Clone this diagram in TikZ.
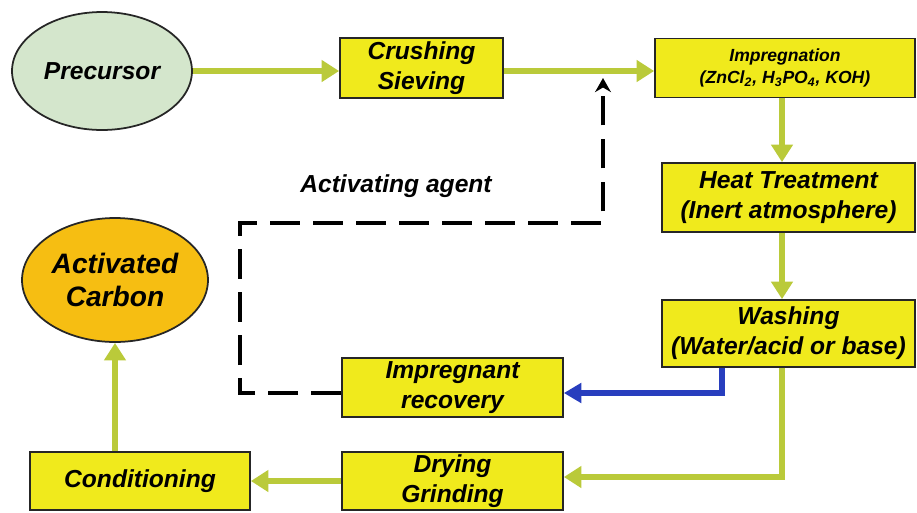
\documentclass[tikz,border=0pt]{standalone}
\usepackage{fontspec}
\setmainfont{Liberation Sans}
\usetikzlibrary{arrows.meta,shapes.geometric}
\definecolor{boxyellow}{RGB}{240,234,28}
\definecolor{flowgreen}{RGB}{186,202,58}
\definecolor{recblue}{RGB}{40,62,190}
\definecolor{precgreen}{RGB}{212,230,204}
\definecolor{carbonorange}{RGB}{246,190,18}

\begin{document}
\begin{tikzpicture}[x=0.02cm,y=-0.02cm,
  stage/.style={draw=black!85,line width=1pt,fill=boxyellow,inner sep=0pt,align=center,
    font=\fontsize{14}{17}\selectfont\bfseries\itshape},
  blob/.style={ellipse,draw=black!85,line width=1pt,inner sep=0pt,align=center,
    font=\fontsize{14}{17}\selectfont\bfseries\itshape},
  flow/.style={flowgreen,line width=3.6pt,-{Triangle[width=12pt,length=10pt]}},
  back/.style={recblue,line width=3.2pt,-{Triangle[width=11pt,length=10pt]}},
  recycle/.style={black,line width=2.2pt,dash pattern=on 17pt off 7.5pt,-{Stealth[width=9pt,length=8pt]}}]
\useasboundingbox (0,0) rectangle (917,512);
\coordinate (col) at (782,0);
\coordinate (bcol) at (722,0);
\coordinate (agent) at (603,78);
\coordinate (bend) at (240,223);

\node[blob,fill=precgreen,minimum width=3.6cm,minimum height=2.36cm] (prec) at (102,71) {Precursor};
\node[stage,minimum width=3.26cm,minimum height=1.2cm] (crush) at (421.5,68) {Crushing\\Sieving};
\node[stage,minimum width=5.2cm,minimum height=1.18cm,font=\fontsize{10}{13}\selectfont\bfseries\itshape] (impr) at (785,68)
  {Impregnation\\(ZnCl\textsubscript{2}, H\textsubscript{3}PO\textsubscript{4}, KOH)};
\node[stage,minimum width=5.06cm,minimum height=1.38cm] (heat) at (788.5,197.5) {Heat Treatment\\(Inert atmosphere)};
\node[stage,minimum width=5.06cm,minimum height=1.34cm] (wash) at (788.5,333.5) {Washing\\(Water/acid or base)};
\node[stage,minimum width=4.42cm,minimum height=1.18cm] (recov) at (452.5,387.5) {Impregnant\\recovery};
\node[stage,minimum width=4.42cm,minimum height=1.16cm] (dry) at (452.5,481) {Drying\\Grinding};
\node[stage,minimum width=4.4cm,minimum height=1.16cm] (cond) at (140,481) {Conditioning};
\node[blob,fill=carbonorange,minimum width=3.72cm,minimum height=2.48cm,
  font=\fontsize{16}{19}\selectfont\bfseries\itshape] (carb) at (115,280) {Activated\\Carbon};
\node[font=\fontsize{14}{17}\selectfont\bfseries\itshape] (agentlbl) at (396,186) {Activating agent};

\draw[flow] (prec.east) -- (prec.east -| crush.west);
\draw[flow] (crush.east |- prec.east) -- (prec.east -| impr.west);
\draw[flow] (impr.south -| col) -- (heat.north -| col);
\draw[flow] (heat.south -| col) -- (wash.north -| col);
\draw[flow] (wash.south -| col) |- ([yshift=0.08cm]dry.east);
\draw[flow] (dry.west) -- (cond.east);
\draw[flow] (cond.north -| carb) -- (carb.south);
\draw[back] (wash.south -| bcol) |- ([yshift=-0.11cm]recov.east);
\draw[recycle] ([yshift=-0.11cm]recov.west) -| (bend) -| (agent);
\end{tikzpicture}
\end{document}
